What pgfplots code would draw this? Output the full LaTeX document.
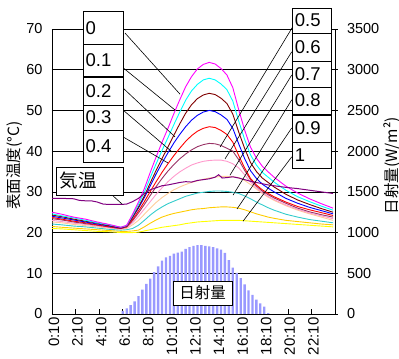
\documentclass[border=0pt]{standalone}
\usepackage{pgfplots}
\pgfplotsset{compat=1.18}
\usepackage{pgfplotstable}
\usepackage{fontspec}
\setmainfont{Liberation Sans}
\newfontfamily\cjk{Noto Sans CJK JP}
\usetikzlibrary{calc}
\definecolor{cMag}{HTML}{FF00FF}
\definecolor{cCyan}{HTML}{00FFFF}
\definecolor{cDRed}{HTML}{800000}
\definecolor{cBlue}{HTML}{0000FF}
\definecolor{cRed}{HTML}{FF0000}
\definecolor{cPlum}{HTML}{993366}
\definecolor{cPink}{HTML}{FF99CC}
\definecolor{cPeach}{HTML}{FFCC99}
\definecolor{cTeal}{HTML}{33CCCC}
\definecolor{cGold}{HTML}{FFCC00}
\definecolor{cYel}{HTML}{FFFF00}
\definecolor{cAir}{HTML}{800080}
\definecolor{cBar}{HTML}{9999FF}
\begin{document}
\begin{tikzpicture}
\pgfplotstableread{
t m c dr b r pl pk pe te go ye
0.17 25.0 24.6 24.3 24.0 23.7 23.4 23.0 22.6 22.1 21.5 21.0
1 24.5 24.1 23.9 23.6 23.3 23.1 22.7 22.4 21.9 21.3 20.9
2 23.8 23.6 23.3 23.1 22.8 22.6 22.3 22.0 21.6 21.1 20.7
3 23.3 23.0 22.8 22.6 22.4 22.2 22.0 21.7 21.4 20.9 20.5
4 22.6 22.4 22.3 22.1 21.9 21.8 21.6 21.4 21.1 20.7 20.3
5 22.0 21.9 21.7 21.6 21.4 21.4 21.2 21.1 20.8 20.5 20.2
6 21.3 21.3 21.2 21.1 21.0 21.0 20.9 20.8 20.6 20.3 20.0
6.5 21.8 21.7 21.6 21.6 21.4 21.4 21.2 21.0 20.7 20.3 20.0
7 24.5 24.2 23.8 23.7 23.2 22.9 22.4 21.9 21.0 20.4 20.0
7.5 27.5 26.9 26.3 26.0 25.3 24.8 24.0 23.0 21.8 20.6 20.1
8 30.8 29.9 29.0 28.6 27.6 26.9 25.8 24.5 23.0 21.4 20.4
8.5 34.8 33.5 32.2 31.5 30.1 29.1 27.6 26.0 24.3 22.3 20.7
9 38.6 36.9 35.3 34.4 32.5 31.3 29.4 27.4 25.4 23.1 21.0
9.5 42.2 40.2 38.2 37.1 34.8 33.3 31.0 28.6 26.3 23.8 21.3
10 45.6 43.3 41.0 39.6 36.9 35.1 32.5 29.6 27.1 24.3 21.5
10.5 49.2 46.5 43.9 42.0 38.9 36.7 33.8 30.5 27.7 24.7 21.7
11 52.6 49.6 46.7 44.1 40.7 38.1 34.9 31.2 28.3 25.0 21.9
11.5 55.8 52.5 49.3 46.0 42.4 39.3 35.8 31.8 28.9 25.3 22.2
12 58.3 54.8 51.4 47.6 43.8 40.3 36.6 32.3 29.3 25.6 22.4
12.5 60.2 56.4 52.9 48.8 44.9 41.1 37.1 32.7 29.7 25.8 22.6
13 61.3 57.5 53.8 49.6 45.6 41.6 37.5 33.1 29.9 25.9 22.7
13.5 61.8 57.9 54.2 50.0 46.0 41.9 37.7 33.4 30.1 26.1 22.8
14 61.4 57.5 53.9 49.7 45.8 41.8 37.8 33.6 30.2 26.2 22.9
14.5 60.3 56.5 53.0 48.9 45.1 41.4 37.8 33.8 30.2 26.3 23.0
15 58.7 55.1 51.7 47.8 44.1 40.7 37.5 33.8 30.1 26.3 23.0
15.5 55.6 52.3 49.1 45.6 42.2 40.0 36.9 33.7 29.9 26.2 23.0
16 50.2 47.4 44.7 41.8 38.9 37.9 35.9 33.5 29.6 26.0 23.0
16.5 45.2 42.9 40.7 38.2 35.9 35.3 34.2 32.8 29.0 25.6 22.9
17 41.0 39.1 37.2 35.2 33.3 33.0 32.4 31.8 28.3 25.1 22.8
17.5 38.3 36.6 35.0 33.3 31.7 31.4 31.0 30.7 27.5 24.6 22.7
18 36.3 34.8 33.4 31.9 30.5 30.2 29.8 29.6 26.8 24.2 22.6
18.5 34.9 33.6 32.3 30.9 29.6 29.3 28.9 28.7 26.1 23.8 22.5
19 33.6 32.4 31.2 30.0 28.8 28.5 28.1 27.9 25.5 23.5 22.4
20 31.4 30.4 29.4 28.4 27.5 27.2 26.8 26.6 24.5 23.0 22.2
21 29.7 28.8 28.0 27.2 26.4 26.0 25.7 25.5 23.8 22.7 22.0
22 28.3 27.6 26.9 26.2 25.6 25.1 24.8 24.6 23.2 22.4 21.8
23 27.1 26.5 25.9 25.4 24.9 24.4 24.1 23.8 22.8 22.1 21.6
24 26.0 25.5 25.0 24.6 24.2 23.8 23.4 23.0 22.4 21.9 21.4
}\surf
\pgfplotstableread{
t v
6.17 37
6.5 70
6.83 110
7.17 155
7.5 220
7.83 300
8.17 370
8.5 435
8.83 515
9.17 585
9.5 655
9.83 695
10.17 715
10.5 740
10.83 755
11.17 765
11.5 800
11.83 820
12.17 835
12.5 847
12.83 847
13.17 838
13.5 830
13.83 820
14.17 805
14.5 790
14.83 750
15.17 660
15.5 570
15.83 505
16.17 440
16.5 365
16.83 290
17.17 235
17.5 175
17.83 130
18.17 90
18.5 10
}\sun
\begin{axis}[name=main, width=283pt, height=285pt, scale only axis,
  xmin=0.1667, xmax=24.1667, ymin=0, ymax=70,
  ytick={0,10,...,70}, ymajorgrids, grid style={black, line width=0.5pt},
  xtick={0.1667,2.1667,4.1667,6.1667,8.1667,10.1667,12.1667,14.1667,16.1667,18.1667,20.1667,22.1667},
  xticklabels={0:10,2:10,4:10,6:10,8:10,10:10,12:10,14:10,16:10,18:10,20:10,22:10},
  xticklabel style={rotate=90, anchor=east, font=\fontsize{15}{16}\selectfont, yshift=-2pt},
  ytick pos=left, xtick pos=bottom, tick align=inside, major tick length=5pt,
  tick style={black, line width=0.6pt},
  yticklabel style={xshift=-6pt, font=\fontsize{14.5}{16}\selectfont},
  /pgf/number format/assume math mode=true,
  axis line style={line width=0.8pt}, clip=false]
\addplot[cYel, line width=0.9pt] table[x=t,y=ye] {\surf};
\addplot[cGold, line width=0.9pt] table[x=t,y=go] {\surf};
\addplot[cTeal, line width=0.9pt] table[x=t,y=te] {\surf};
\addplot[cPeach, line width=0.9pt] table[x=t,y=pe] {\surf};
\addplot[cPink, line width=0.9pt] table[x=t,y=pk] {\surf};
\addplot[cPlum, line width=0.9pt] table[x=t,y=pl] {\surf};
\addplot[cRed, line width=0.9pt] table[x=t,y=r] {\surf};
\addplot[cBlue, line width=0.9pt] table[x=t,y=b] {\surf};
\addplot[cDRed, line width=0.9pt] table[x=t,y=dr] {\surf};
\addplot[cCyan, line width=0.9pt] table[x=t,y=c] {\surf};
\addplot[cMag, line width=0.9pt] table[x=t,y=m] {\surf};
\addplot[cAir, line width=1pt] coordinates {(0.17,28.4) (1,28.4) (2,28.3) (2.5,27.9) (3,27.8) (3.5,27.8) (4,27.5) (4.5,27.0) (5,26.9) (5.5,26.9) (6,26.9) (6.5,27.0) (7,27.6) (7.5,28.4) (8,29.6) (8.5,30.5) (9,31.0) (9.5,31.5) (10,31.7) (10.5,32.0) (11,32.3) (11.5,32.5) (12,32.4) (12.5,32.8) (13,33.0) (13.5,33.2) (14,33.6) (14.3,34.2) (14.6,33.4) (15,33.5) (15.5,33.7) (16,33.4) (16.5,33.0) (17,32.6) (17.5,32.3) (18,32.0) (18.5,31.7) (19,31.5) (20,31.1) (21,30.8) (22,30.4) (23,30.0) (24,29.6)};
% leader lines
\begin{scope}[black, line width=0.6pt]
\draw (axis cs:6.36,69.0) -- (axis cs:11.02,54.0);
\draw (axis cs:6.1,60.7) -- (axis cs:10.6,50.1);
\draw (axis cs:6.1,55.75) -- (axis cs:10.6,43.5);
\draw (axis cs:6.19,50.1) -- (axis cs:10.35,39.8);
\draw (axis cs:6.19,43.5) -- (axis cs:10.0,37.1);
\draw (axis cs:20.78,71.5) -- (axis cs:14.42,41.0);
\draw (axis cs:20.5,64.4) -- (axis cs:14.84,38.1);
\draw (axis cs:20.5,58.7) -- (axis cs:15.26,34.1);
\draw (axis cs:20.5,52.6) -- (axis cs:15.52,29.2);
\draw (axis cs:20.5,45.7) -- (axis cs:15.86,25.8);
\draw (axis cs:20.5,38.6) -- (axis cs:16.37,22.8);
\draw (axis cs:4.8,30.45) -- (axis cs:6.13,26.94);
\end{scope}
% boxes
\begin{scope}[line width=0.8pt]
\draw[fill=white] (axis cs:2.80,74.25) rectangle (axis cs:6.19,66.24);
\draw[fill=white] (axis cs:2.80,66.24) rectangle (axis cs:6.19,58.46);
\draw[fill=white] (axis cs:2.80,58.2) rectangle (axis cs:6.19,51.33);
\draw[fill=white] (axis cs:2.80,51.33) rectangle (axis cs:6.19,45.19);
\draw[fill=white] (axis cs:2.80,45.19) rectangle (axis cs:6.19,37.33);
\draw[fill=white] (axis cs:20.52,75.16) rectangle (axis cs:23.83,69.0);
\draw[fill=white] (axis cs:20.52,69.0) rectangle (axis cs:23.83,62.12);
\draw[fill=white] (axis cs:20.52,62.12) rectangle (axis cs:23.83,55.75);
\draw[fill=white] (axis cs:20.52,55.75) rectangle (axis cs:23.83,49.12);
\draw[fill=white] (axis cs:20.52,48.88) rectangle (axis cs:23.83,42.25);
\draw[fill=white] (axis cs:20.52,42.25) rectangle (axis cs:23.83,35.86);
\draw[fill=white] (axis cs:0.51,36.1) rectangle (axis cs:6.19,29.23);
\end{scope}
\begin{scope}[every node/.style={anchor=west, inner sep=0pt, font=\fontsize{18.5}{19}\selectfont}]
\node at (axis cs:3.0,70.25) {0};
\node at (axis cs:3.0,62.35) {0.1};
\node at (axis cs:3.0,54.77) {0.2};
\node at (axis cs:3.0,48.26) {0.3};
\node at (axis cs:3.0,41.26) {0.4};
\node at (axis cs:20.75,72.08) {0.5};
\node at (axis cs:20.75,65.56) {0.6};
\node at (axis cs:20.75,58.94) {0.7};
\node at (axis cs:20.75,52.44) {0.8};
\node at (axis cs:20.75,45.57) {0.9};
\node at (axis cs:20.75,39.06) {1};
\node[font=\cjk\fontsize{18.5}{19}\selectfont] at (axis cs:0.8,32.67) {気温};
\end{scope}
\node[rotate=90, font=\cjk\fontsize{15.5}{16}\selectfont] at (rel axis cs:-0.131,0.52) {表面温度(°C)};
\end{axis}
\begin{axis}[width=283pt, height=285pt, scale only axis,
  at={(main.south west)}, anchor=south west,
  xmin=0.1667, xmax=24.1667, ymin=0, ymax=3500,
  axis y line*=right, axis x line=none,
  ytick={0,500,...,3500}, tick align=center, major tick length=5pt,
  tick style={black, line width=0.6pt},
  tick label style={font=\fontsize{14.5}{16}\selectfont},
  yticklabel style={xshift=6pt},
  /pgf/number format/assume math mode=true,
  /pgf/number format/1000 sep={},
  axis line style={line width=0.8pt}, clip=false]
\addplot[ybar, bar width=0.2, fill=cBar, draw=none] table[x=t,y=v] {\sun};
\draw[fill=white, line width=0.8pt] (axis cs:10.43,405) rectangle (axis cs:15.43,110.5);
\node[font=\cjk\fontsize{15.5}{16}\selectfont] at (axis cs:12.93,257) {日射量};
\node[rotate=90, font=\cjk\fontsize{15.5}{16}\selectfont] at (rel axis cs:1.203,0.52) {日射量(W/m²)};
\end{axis}
\pgfresetboundingbox
\path[use as bounding box] ($(main.south west)+(-52pt,-45pt)$) rectangle ($(main.north east)+(64pt,29pt)$);
\end{tikzpicture}
\end{document}
